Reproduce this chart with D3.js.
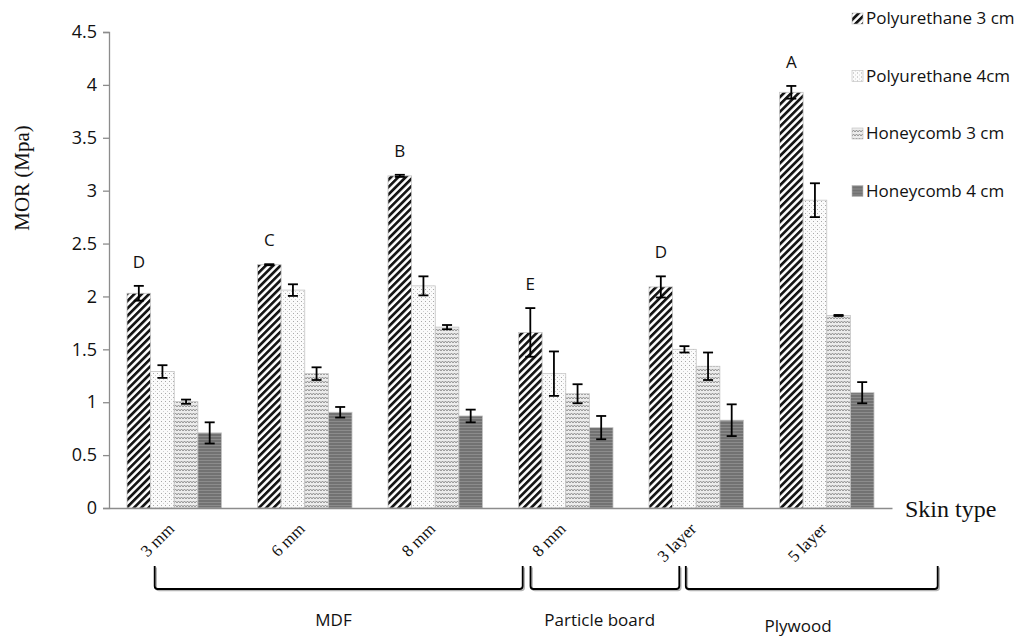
<!DOCTYPE html>
<html>
<head>
<meta charset="utf-8">
<script src="https://cdn.jsdelivr.net/npm/d3@7"></script>
<style>
    body { margin: 0; background: #ffffff; }
    svg { display: block; }
</style>
</head>
<body>
<div id="chart"></div>
<script>
// skin types along the x axis
var categories = ["3 mm", "6 mm", "8 mm", "8 mm", "3 layer", "5 layer"];
var seriesNames = ["Polyurethane 3 cm", "Polyurethane 4cm", "Honeycomb 3 cm", "Honeycomb 4 cm"];

// MOR values (Mpa) and error bar half-lengths, one array per series
var pu3 = [2.03, 2.30, 3.14, 1.66, 2.09, 3.93];
var pu3Err = [0.07, 0.005, 0.01, 0.23, 0.10, 0.06];
var pu4 = [1.29, 2.06, 2.10, 1.27, 1.50, 2.91];
var pu4Err = [0.06, 0.055, 0.09, 0.21, 0.03, 0.16];
var hc3 = [1.005, 1.27, 1.71, 1.08, 1.34, 1.82];
var hc3Err = [0.02, 0.06, 0.02, 0.09, 0.13, 0.005];
var hc4 = [0.71, 0.905, 0.87, 0.76, 0.83, 1.09];
var hc4Err = [0.10, 0.05, 0.06, 0.11, 0.15, 0.10];

// significance letters above the first bar of each group
var letters = ["D", "C", "B", "E", "D", "A"];

var yTicks = [0, 0.5, 1, 1.5, 2, 2.5, 3, 3.5, 4, 4.5];

// board groups: name, start / end in category units, label position in category units
var boardGroups = ["MDF", "Particle board", "Plywood"];
var groupStart = [0.35, 3.23, 4.42];
var groupEnd = [3.17, 4.37, 6.35];
var groupLabelAt = [1.72, 3.76, 5.28];

function init() {
    var w = 1021;
    var h = 636;
    var margin = { left: 109, right: 129, top: 32, bottom: 128 };

    var values = [pu3, pu4, hc3, hc4];
    var errors = [pu3Err, pu4Err, hc3Err, hc4Err];

    var svg = d3.select("#chart")
        .append("svg")
        .attr("width", w)
        .attr("height", h);

    var defs = svg.append("defs");

    // Pattern 1: black diagonal hatch
    var p1 = defs.append("pattern")
        .attr("id", "pat0")
        .attr("patternUnits", "userSpaceOnUse")
        .attr("width", 5.2).attr("height", 5.2)
        .attr("patternTransform", "rotate(45)");
    p1.append("rect").attr("width", 5.2).attr("height", 5.2).attr("fill", "#ffffff");
    p1.append("rect").attr("width", 2.7).attr("height", 5.2).attr("fill", "#151515");

    // Pattern 2: white with small grey dots
    var p2 = defs.append("pattern")
        .attr("id", "pat1")
        .attr("patternUnits", "userSpaceOnUse")
        .attr("width", 4).attr("height", 4);
    p2.append("rect").attr("width", 4).attr("height", 4).attr("fill", "#fbfbfb");
    p2.append("rect").attr("x", 1).attr("y", 1).attr("width", 1).attr("height", 1).attr("fill", "#a8a8a8");
    p2.append("rect").attr("x", 3).attr("y", 3).attr("width", 1).attr("height", 1).attr("fill", "#d0d0d0");

    // Pattern 3: light grey zigzag waves
    var p3 = defs.append("pattern")
        .attr("id", "pat2")
        .attr("patternUnits", "userSpaceOnUse")
        .attr("width", 6).attr("height", 4);
    p3.append("rect").attr("width", 6).attr("height", 4).attr("fill", "#ececec");
    p3.append("path")
        .attr("d", "M0,3 L1.5,1 L3,3 L4.5,1 L6,3")
        .attr("fill", "none")
        .attr("stroke", "#8a8a8a")
        .attr("stroke-width", 0.9);

    // Pattern 4: dark grey with fine horizontal lines
    var p4 = defs.append("pattern")
        .attr("id", "pat3")
        .attr("patternUnits", "userSpaceOnUse")
        .attr("width", 4).attr("height", 3);
    p4.append("rect").attr("width", 4).attr("height", 3).attr("fill", "#727272");
    p4.append("rect").attr("y", 1).attr("width", 4).attr("height", 1).attr("fill", "#8c8c8c");

    // Scales
    var xScale = d3.scaleBand()
        .domain(d3.range(categories.length))
        .range([margin.left, w - margin.right]);

    var xInner = d3.scaleBand()
        .domain(d3.range(seriesNames.length))
        .range([18, xScale.bandwidth() - 18]);

    // continuous position in category units, for brackets and group labels
    var xCat = d3.scaleLinear()
        .domain([0, categories.length])
        .range([margin.left, w - margin.right]);

    var yScale = d3.scaleLinear()
        .domain([0, 4.5])
        .range([h - margin.bottom, margin.top]);

    // Bars
    var barData = [];
    categories.forEach(function (c, i) {
        seriesNames.forEach(function (s, j) {
            barData.push({ cat: i, series: j, value: values[j][i], err: errors[j][i] });
        });
    });

    svg.append("g")
        .selectAll("rect")
        .data(barData)
        .enter()
        .append("rect")
        .attr("x", d => xScale(d.cat) + xInner(d.series))
        .attr("y", d => yScale(d.value))
        .attr("width", xInner.bandwidth())
        .attr("height", d => yScale(0) - yScale(d.value))
        .attr("fill", d => "url(#pat" + d.series + ")")
        .attr("stroke", "#c4c4c4")
        .attr("stroke-width", 0.8);

    // Error bars
    var errG = svg.append("g")
        .attr("stroke", "#000000")
        .attr("stroke-width", 1.8);

    barData.forEach(function (d) {
        var cx = xScale(d.cat) + xInner(d.series) + xInner.bandwidth() / 2;
        var y1 = yScale(d.value + d.err);
        var y2 = yScale(d.value - d.err);
        errG.append("line").attr("x1", cx).attr("x2", cx).attr("y1", y1).attr("y2", y2);
        errG.append("line").attr("x1", cx - 5).attr("x2", cx + 5).attr("y1", y1).attr("y2", y1);
        errG.append("line").attr("x1", cx - 5).attr("x2", cx + 5).attr("y1", y2).attr("y2", y2);
    });

    // Significance letters
    svg.append("g")
        .selectAll("text")
        .data(letters)
        .enter()
        .append("text")
        .attr("x", (d, i) => xScale(i) + xInner(0) + xInner.bandwidth() / 2)
        .attr("y", (d, i) => yScale(pu3[i] + pu3Err[i]) - 18)
        .attr("text-anchor", "middle")
        .style("font-family", "Open Sans")
        .style("font-size", "17px")
        .style("fill", "#111111")
        .text(d => d);

    // Y axis
    var yAxis = d3.axisLeft(yScale)
        .tickValues(yTicks)
        .tickSize(6)
        .tickPadding(6)
        .tickFormat(d => String(d));

    var yG = svg.append("g")
        .attr("transform", "translate(" + margin.left + ",0)")
        .call(yAxis);
    yG.select(".domain").attr("stroke", "#8c8c8c").attr("stroke-width", 1.3);
    yG.selectAll(".tick line").attr("stroke", "#8c8c8c").attr("stroke-width", 1.3);
    yG.selectAll("text")
        .style("font-family", "Open Sans")
        .style("font-size", "18px")
        .style("fill", "#111111");

    // X axis line (no ticks)
    var xAxis = d3.axisBottom(xScale)
        .tickSize(0)
        .tickFormat("");
    var xG = svg.append("g")
        .attr("transform", "translate(0," + yScale(0) + ")")
        .call(xAxis);
    xG.select(".domain").attr("stroke", "#8c8c8c").attr("stroke-width", 1.3);

    // Rotated category labels
    svg.append("g")
        .selectAll("text")
        .data(categories)
        .enter()
        .append("text")
        .attr("transform", (d, i) => "translate(" + (xScale(i) + xScale.bandwidth() / 2 + 1) + "," + (yScale(0) + 22) + ") rotate(-45)")
        .attr("text-anchor", "end")
        .style("font-family", "Liberation Serif")
        .style("font-size", "17px")
        .style("fill", "#111111")
        .text(d => d);

    // Axis titles
    svg.append("text")
        .attr("transform", "translate(29," + 178 + ") rotate(-90)")
        .attr("text-anchor", "middle")
        .style("font-family", "Liberation Serif")
        .style("font-size", "21px")
        .style("fill", "#111111")
        .text("MOR  (Mpa)");

    svg.append("text")
        .attr("x", w - margin.right + 13)
        .attr("y", yScale(0) + 9)
        .style("font-family", "Liberation Serif")
        .style("font-size", "24px")
        .style("fill", "#111111")
        .text("Skin type");

    // Brackets under the labels, with a soft grey shadow
    var bTop = 566;
    var bBottom = 589;
    function bracketPath(i, off) {
        var x0 = xCat(groupStart[i]) + off;
        var x1 = xCat(groupEnd[i]) + off;
        return "M" + x0 + "," + (bTop + off) + " L" + x0 + "," + (bBottom + off - 3) +
            " Q" + x0 + "," + (bBottom + off) + " " + (x0 + 3) + "," + (bBottom + off) +
            " L" + (x1 - 3) + "," + (bBottom + off) +
            " Q" + x1 + "," + (bBottom + off) + " " + x1 + "," + (bBottom + off - 3) +
            " L" + x1 + "," + (bTop + off);
    }
    var brG = svg.append("g").attr("fill", "none");
    boardGroups.forEach(function (g, i) {
        brG.append("path").attr("d", bracketPath(i, 1.5)).attr("stroke", "#b5b5b5").attr("stroke-width", 1.6);
        brG.append("path").attr("d", bracketPath(i, 0)).attr("stroke", "#000000").attr("stroke-width", 1.8);
    });

    svg.append("g")
        .selectAll("text")
        .data(boardGroups)
        .enter()
        .append("text")
        .attr("x", (d, i) => xCat(groupLabelAt[i]))
        .attr("y", (d, i) => i === 2 ? 632 : 626)
        .attr("text-anchor", "middle")
        .style("font-family", "Open Sans")
        .style("font-size", "17px")
        .style("fill", "#111111")
        .text(d => d);

    // Legend
    var legend = svg.append("g")
        .attr("transform", "translate(" + (w - 169) + ",0)");
    var items = legend.selectAll("g")
        .data(seriesNames)
        .enter()
        .append("g")
        .attr("transform", (d, i) => "translate(0," + (18 + i * 57.5) + ")");
    items.append("rect")
        .attr("x", 0)
        .attr("y", -5)
        .attr("width", 11)
        .attr("height", 11)
        .attr("fill", (d, i) => "url(#pat" + i + ")")
        .attr("stroke", "#bdbdbd")
        .attr("stroke-width", 0.6);
    items.append("text")
        .attr("x", 14)
        .attr("y", 6)
        .style("font-family", "Open Sans")
        .style("font-size", "17px")
        .style("fill", "#111111")
        .text(d => d);
}

window.onload = init;
</script>
</body>
</html>
